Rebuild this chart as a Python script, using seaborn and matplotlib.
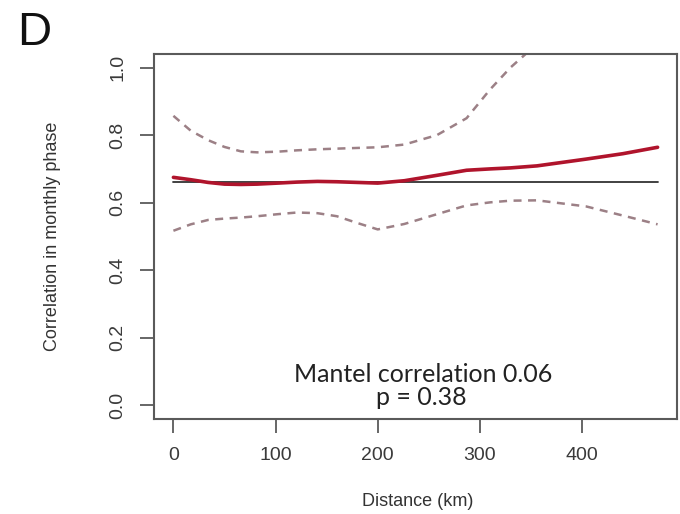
import numpy as np
import pandas as pd
import matplotlib
matplotlib.use("Agg")
import matplotlib.pyplot as plt
import seaborn as sns

# ---- data ----
distance_km = [0, 17, 34, 50, 66, 82, 102, 121, 141, 160, 180, 200, 226,
               258, 287, 310, 330, 356, 404, 440, 474]
fit_corr = [0.675, 0.668, 0.660, 0.655, 0.654, 0.655, 0.658, 0.661, 0.663,
            0.662, 0.660, 0.658, 0.665, 0.681, 0.696, 0.700, 0.703, 0.709,
            0.729, 0.745, 0.764]
upper_ci = [0.857, 0.813, 0.785, 0.765, 0.752, 0.749, 0.751, 0.755, 0.758,
            0.760, 0.762, 0.764, 0.772, 0.800, 0.850, 0.935, 1.000, 1.070,
            1.200, 1.320, 1.450]
lower_ci = [0.517, 0.536, 0.549, 0.553, 0.556, 0.560, 0.566, 0.571, 0.569,
            0.560, 0.540, 0.521, 0.537, 0.566, 0.592, 0.601, 0.606, 0.607,
            0.589, 0.562, 0.536]
mean_corr = 0.662
x_ticks = [0, 100, 200, 300, 400]
y_ticks = [0.0, 0.2, 0.4, 0.6, 0.8, 1.0]
y_tick_labels = ["0.0", "0.2", "0.4", "0.6", "0.8", "1.0"]
annot_line1 = "Mantel correlation 0.06"
annot_line2 = "p = 0.38"

df = pd.DataFrame({"dist": distance_km, "fit": fit_corr,
                   "upper": upper_ci, "lower": lower_ci})
ref = pd.DataFrame({"dist": [min(distance_km), max(distance_km)],
                    "val": [mean_corr, mean_corr]})

sns.set_theme(style="white")
plt.rcParams["font.family"] = ["Liberation Sans", "DejaVu Sans"]

fig = plt.figure(figsize=(6.8, 5.14), dpi=100)
ax = fig.add_axes([154 / 680, 1 - 419 / 514, 523 / 680, 365 / 514])

dash_col = "#9c8086"
sns.lineplot(data=ref, x="dist", y="val", ax=ax, color="#333333", lw=1.3)
sns.lineplot(data=df, x="dist", y="upper", ax=ax, color=dash_col, lw=1.8,
             linestyle=(0, (3.2, 2.6)))
sns.lineplot(data=df, x="dist", y="lower", ax=ax, color=dash_col, lw=1.8,
             linestyle=(0, (3.2, 2.6)))
sns.lineplot(data=df, x="dist", y="fit", ax=ax, color="#b0142c", lw=2.6)

ax.set_xlim(-19, 493)
ax.set_ylim(-0.04, 1.04)
ax.set_xticks(x_ticks)
ax.set_yticks(y_ticks)
ax.set_yticklabels(y_tick_labels, rotation=90, va="center")

for s in ax.spines.values():
    s.set_visible(True)
    s.set_color("#5a5a5a")
    s.set_linewidth(1.5)

ax.tick_params(axis="both", direction="out", length=10, width=1.3,
               color="#5a5a5a", labelsize=14, labelcolor="#3a3a3a")
ax.tick_params(axis="y", pad=10, left=True)
ax.tick_params(axis="x", pad=10, bottom=True)

ax.set_xlabel("Distance (km)", fontsize=13, color="#333333")
ax.set_ylabel("Correlation in monthly phase", fontsize=13, color="#333333")
ax.xaxis.label.set_va("center")
ax.yaxis.label.set_va("center")
ax.xaxis.set_label_coords(0.505, -0.227)
ax.yaxis.set_label_coords(-0.195, 0.5)

ax.text(0.514, 0.101, annot_line1, transform=ax.transAxes, ha="center",
        va="baseline", fontsize=18, family=["Lato", "DejaVu Sans"],
        color="#222222")
ax.text(0.511, 0.038, annot_line2, transform=ax.transAxes, ha="center",
        va="baseline", fontsize=18, family=["Lato", "DejaVu Sans"],
        color="#222222")

fig.text(17 / 680, 1 - 45 / 514, "D", fontsize=34, color="#111111",
         ha="left", va="baseline")

fig.savefig("out.png", dpi=100)
